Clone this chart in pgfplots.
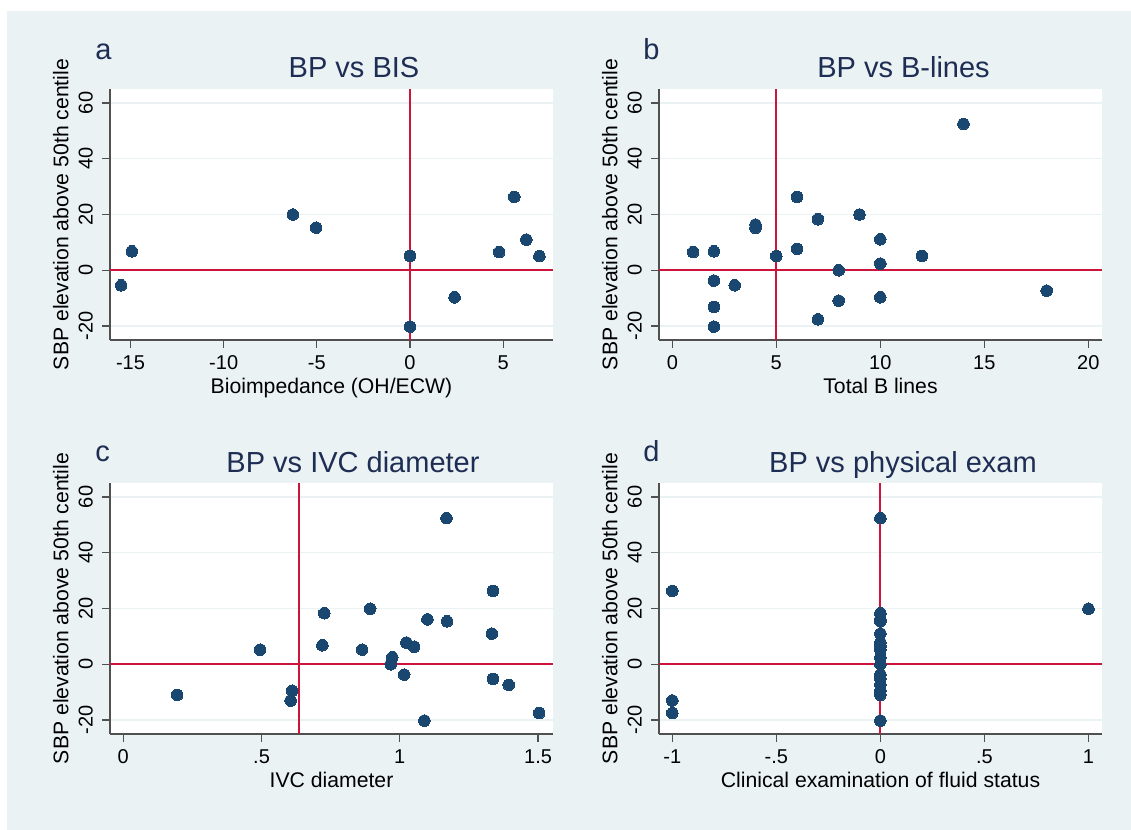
\documentclass[border=0pt]{standalone}
\usepackage{fontspec}
\setmainfont{Liberation Sans}
\usepackage{pgfplots}
\pgfplotsset{compat=1.18}
\definecolor{bgc}{RGB}{234,242,243}
\definecolor{mk}{RGB}{26,71,111}
\definecolor{rl}{RGB}{205,20,60}
\definecolor{tc}{RGB}{30,45,83}
\definecolor{axc}{RGB}{80,80,80}
\pgfplotsset{
  panel/.style={
    scale only axis, width=221.5pt, height=125.5pt,
    anchor=south west,
    ymin=-25, ymax=65, ytick={-20,0,20,40,60},
    yticklabels={-20,0,20,40,60},
    axis x line*=bottom, axis y line*=left,
    axis line style={axc, line width=0.6pt, -},
    tick style={axc, line width=0.6pt},
    tick align=outside, major tick length=4pt,
    ymajorgrids, grid style={bgc, line width=0.7pt},
    axis background/.style={fill=white},
    /pgf/number format/assume math mode=true,
    tick label style={font=\fontsize{10}{12}\selectfont, inner sep=0pt, text=black},
    yticklabel style={xshift=-4.35pt, rotate=90, anchor=south},
    xticklabel style={yshift=-11pt, anchor=base},
    label style={font=\fontsize{10.6}{12}\selectfont, inner sep=0pt, text=black},
    xlabel style={at={(axis description cs:0.5,-0.2125)}, anchor=base},
    ylabel style={at={(axis description cs:-0.0926,0.5)}, anchor=south, rotate=0},
    ylabel={SBP elevation above 50th centile},
    clip=false,
  },
  redl/.style={rl, line width=1pt, no markers},
  pts/.style={only marks, mark=*, mark size=2.9pt, mark options={fill=mk, draw=mk, line width=0pt}},
}
\begin{document}
\begin{tikzpicture}
\fill[white] (0,0) rectangle (565.5pt,415pt);
\fill[bgc] (3.5pt,0) rectangle (565.5pt,409.5pt);

% panel a
\begin{axis}[panel, at={(55pt,245pt)}, xmin=-16.1, xmax=7.67,
  xtick={-15,-10,-5,0,5}, xticklabels={-15,-10,-5,0,5},
  xlabel={Bioimpedance (OH/ECW)}]
\addplot[redl] coordinates {(-16.1,0) (7.67,0)};
\addplot[redl] coordinates {(0,-25) (0,65)};
\addplot[pts] coordinates {
(-15.5,-5.4) (-14.93,6.8) (-6.29,20.0) (-5.04,15.3) (0,5.1) (0,-20.2)
(2.39,-9.7) (4.78,6.5) (5.59,26.3) (6.24,11.0) (6.94,5.1)
};
\end{axis}

% panel b
\begin{axis}[panel, at={(329.5pt,245pt)}, xmin=-0.64, xmax=20.66,
  xtick={0,5,10,15,20}, xticklabels={0,5,10,15,20},
  xlabel={Total B lines}]
\addplot[redl] coordinates {(-0.64,0) (20.66,0)};
\addplot[redl] coordinates {(5,-25) (5,65)};
\addplot[pts] coordinates {
(1,6.5) (2,6.8) (2,-3.7) (2,-13.2) (2,-20.2) (3,-5.4) (4,16.4) (4,15.2)
(5,5.1) (6,26.3) (6,7.7) (7,18.3) (7,-17.6) (8,0) (8,-10.9) (9,20)
(10,11.1) (10,2.4) (10,-9.7) (12,5.1) (14,52.5) (18,-7.3)
};
\end{axis}

% panel c
\begin{axis}[panel, at={(55pt,48pt)}, xmin=-0.048, xmax=1.554,
  xtick={0,0.5,1,1.5}, xticklabels={0,.5,1,1.5},
  xlabel={IVC diameter}]
\addplot[redl] coordinates {(-0.048,0) (1.554,0)};
\addplot[redl] coordinates {(0.635,-25) (0.635,65)};
\addplot[pts] coordinates {
(0.195,-11.0) (0.495,5.25) (0.605,-13.0) (0.611,-9.5) (0.72,6.8) (0.727,18.3)
(0.864,5.25) (0.893,19.9) (0.967,0) (0.973,2.5) (1.016,-3.7) (1.024,7.8)
(1.052,6.3) (1.089,-20.2) (1.10,16.1) (1.169,52.4) (1.171,15.4) (1.333,11.0)
(1.337,26.3) (1.337,-5.25) (1.394,-7.4) (1.504,-17.5)
};
\end{axis}

% panel d
\begin{axis}[panel, at={(329.5pt,48pt)}, xmin=-1.064, xmax=1.065,
  xtick={-1,-0.5,0,0.5,1}, xticklabels={-1,-.5,0,.5,1},
  xlabel={Clinical examination of fluid status}]
\addplot[redl] coordinates {(-1.064,0) (1.065,0)};
\addplot[redl] coordinates {(0,-25) (0,65)};
\addplot[pts] coordinates {
(-1,26.3) (-1,-13.0) (-1,-17.5) (1,19.9)
(0,52.4) (0,18.3) (0,16.1) (0,15.4) (0,11.0) (0,7.8) (0,6.8) (0,6.3)
(0,5.25) (0,5.25) (0,2.5) (0,0) (0,-3.7) (0,-5.25) (0,-7.4) (0,-9.5)
(0,-11.0) (0,-20.2)
};
\end{axis}

% titles and panel letters
\begin{scope}[every node/.style={inner sep=0pt, text=tc, font=\fontsize{14.5}{16}\selectfont}]
\node[anchor=base] at (177pt,376pt) {BP vs BIS};
\node[anchor=base] at (451.75pt,376pt) {BP vs B-lines};
\node[anchor=base] at (176.5pt,178.5pt) {BP vs IVC diameter};
\node[anchor=base] at (451.5pt,178.5pt) {BP vs physical exam};
\node[anchor=base west] at (47.5pt,385pt) {a};
\node[anchor=base west] at (321.5pt,385pt) {b};
\node[anchor=base west] at (47.5pt,184pt) {c};
\node[anchor=base west] at (321.5pt,184pt) {d};
\end{scope}
\pgfresetboundingbox
\path (0,0) rectangle (565.5pt,415pt);
\end{tikzpicture}
\end{document}
